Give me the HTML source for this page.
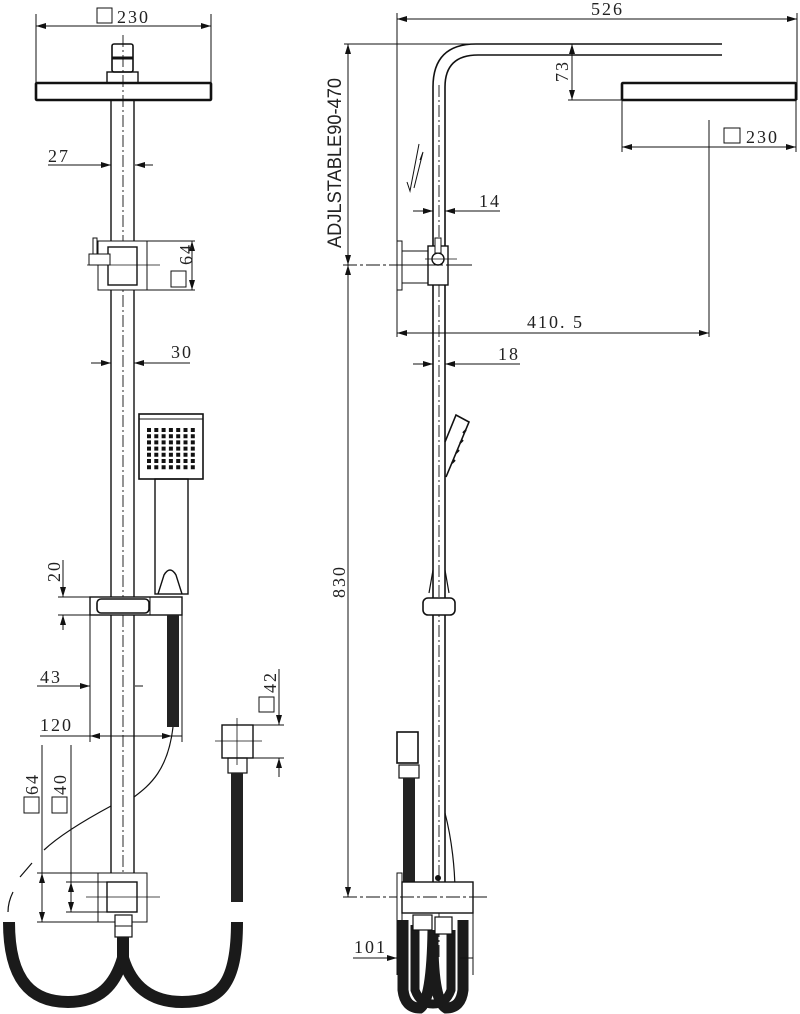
<!DOCTYPE html>
<html><head><meta charset="utf-8"><style>
html,body{margin:0;padding:0;background:#fff;}
svg{display:block;}
.t{font-family:"Liberation Serif",serif;font-size:18px;fill:#222;letter-spacing:2px;}
.s{font-family:"Liberation Sans",sans-serif;font-size:19px;fill:#222;}
</style></head><body>
<svg width="800" height="1014" viewBox="0 0 800 1014" xmlns="http://www.w3.org/2000/svg">
<defs>
<marker id="a" viewBox="0 0 10 6" refX="10" refY="3" markerWidth="10" markerHeight="6" markerUnits="userSpaceOnUse" orient="auto-start-reverse"><path d="M0,0 L10,3 L0,6 Z" fill="#111"/></marker>
</defs>
<g stroke="#111" fill="none" stroke-width="1">
<!-- LEFT VIEW -->
<line x1="36" y1="26" x2="211" y2="26" marker-start="url(#a)" marker-end="url(#a)"/>
<line x1="36" y1="14" x2="36" y2="83"/><line x1="211" y1="14" x2="211" y2="83"/>
<rect x="112" y="44" width="21" height="28" rx="2" stroke-width="1.6"/>
<line x1="112" y1="58" x2="133" y2="58" stroke-width="3"/>
<rect x="107" y="72" width="31" height="11" stroke-width="1.4"/>
<rect x="36" y="83" width="175" height="17" stroke-width="2.6" rx="1"/>
<line x1="111" y1="100" x2="111" y2="873" stroke-width="1.4"/>
<line x1="134" y1="100" x2="134" y2="873" stroke-width="1.4"/>
<line x1="123" y1="35" x2="123" y2="940" stroke-dasharray="12,3,2,3" stroke-width="0.9"/>
<!-- 27 -->
<line x1="48" y1="165" x2="111" y2="165" marker-end="url(#a)"/>
<line x1="153" y1="165" x2="135" y2="165" marker-end="url(#a)"/>
<!-- bracket -->
<rect x="98" y="241" width="49" height="49" fill="#fff"/>
<rect x="108" y="247" width="29" height="38" fill="#fff" stroke-width="1.4"/>
<rect x="93" y="238" width="4" height="27"/>
<rect x="89" y="254" width="21" height="11" fill="#fff"/>
<line x1="87" y1="265" x2="160" y2="265" stroke-width="0.8"/>
<line x1="147" y1="241" x2="195" y2="241"/><line x1="147" y1="290" x2="195" y2="290"/>
<line x1="192" y1="241" x2="192" y2="290" marker-start="url(#a)" marker-end="url(#a)"/>
<rect x="171" y="271" width="15" height="16"/>
<!-- 30 -->
<line x1="91" y1="363" x2="111" y2="363" marker-end="url(#a)"/>
<line x1="190" y1="363" x2="134" y2="363" marker-end="url(#a)"/>
<!-- hand shower -->
<rect x="139" y="414" width="64" height="65" stroke-width="1.6"/>
<line x1="139" y1="419" x2="203" y2="419"/>
<rect x="155" y="479" width="33" height="115" stroke-width="1.4"/>
<path d="M158,594 L164,575 Q170,565 176,575 L182,594" stroke-width="1.4"/>
<rect x="90" y="597" width="92" height="18" fill="#fff" stroke-width="1.4"/>
<rect x="97" y="599" width="52" height="14" rx="4" stroke-width="1.6"/>
<line x1="150" y1="597" x2="150" y2="615"/>
<rect x="167" y="615" width="12" height="112" fill="#222" stroke="none"/>
<!-- 20 -->
<line x1="58" y1="597" x2="90" y2="597"/><line x1="58" y1="615" x2="90" y2="615"/>
<line x1="63" y1="560" x2="63" y2="597" marker-end="url(#a)"/>
<line x1="63" y1="630" x2="63" y2="615" marker-end="url(#a)"/>
<!-- 43/120 -->
<line x1="90" y1="615" x2="90" y2="742"/><line x1="182" y1="615" x2="182" y2="742"/>
<line x1="37" y1="686" x2="90" y2="686" marker-end="url(#a)"/>
<line x1="143" y1="686" x2="135" y2="686"/>
<line x1="40" y1="736" x2="182" y2="736"/>
<line x1="100" y1="736" x2="90" y2="736" marker-end="url(#a)"/>
<line x1="162" y1="736" x2="172" y2="736" marker-end="url(#a)"/>
<!-- thin hose -->
<path d="M173,727 C168,770 150,785 134,797 M111,806 C85,820 60,835 44,850" stroke-width="1.2"/>
<path d="M32,863 L20,877 M13,892 Q8,902 8,912" stroke-width="1.2"/>
<!-- bottom bracket -->
<rect x="98" y="873" width="49" height="49" fill="#fff"/>
<rect x="107" y="882" width="30" height="30" fill="#fff" stroke-width="1.4"/>
<line x1="86" y1="897" x2="160" y2="897" stroke-width="0.8"/>
<rect x="115" y="915" width="17" height="22" fill="#fff" stroke-width="1.2"/>
<line x1="115" y1="926" x2="132" y2="926"/>
<line x1="37" y1="873" x2="98" y2="873"/><line x1="37" y1="922" x2="98" y2="922"/>
<line x1="42" y1="745" x2="42" y2="922"/>
<line x1="42" y1="890" x2="42" y2="873" marker-end="url(#a)"/>
<line x1="42" y1="905" x2="42" y2="922" marker-end="url(#a)"/>
<line x1="66" y1="882" x2="107" y2="882"/><line x1="66" y1="912" x2="107" y2="912"/>
<line x1="71" y1="745" x2="71" y2="912"/>
<line x1="71" y1="895" x2="71" y2="882" marker-end="url(#a)"/>
<line x1="71" y1="899" x2="71" y2="912" marker-end="url(#a)"/>
<rect x="24" y="797" width="15" height="16"/>
<rect x="52" y="797" width="15" height="16"/>
<!-- big hoses -->
<path d="M9,922 C9,985 35,1002 68,1002 C100,1002 115,985 123,958 L123,937" stroke="#1a1a1a" stroke-width="12"/>
<path d="M123,958 C131,985 150,1002 182,1002 C220,1002 237,985 237,922" stroke="#1a1a1a" stroke-width="12"/>
<!-- wall connector -->
<rect x="222" y="725" width="31" height="33" stroke-width="1.4"/>
<line x1="215" y1="741" x2="262" y2="741" stroke-width="0.8"/>
<line x1="237" y1="718" x2="237" y2="765" stroke-width="0.8"/>
<rect x="228" y="758" width="19" height="15" stroke-width="1.2"/>
<rect x="231" y="773" width="12" height="129" fill="#222" stroke="none"/>
<line x1="253" y1="725" x2="284" y2="725"/><line x1="253" y1="758" x2="284" y2="758"/>
<line x1="279" y1="669" x2="279" y2="725" marker-end="url(#a)"/>
<line x1="279" y1="777" x2="279" y2="758" marker-end="url(#a)"/>
<rect x="259" y="697" width="15" height="15"/>

<!-- RIGHT VIEW -->
<line x1="397" y1="19" x2="797" y2="19" marker-start="url(#a)" marker-end="url(#a)"/>
<line x1="397" y1="13" x2="397" y2="337"/><line x1="797" y1="13" x2="797" y2="100"/>
<path d="M433,882 L433,87 Q433,44 476,44 L722,44" stroke-width="1.6"/>
<path d="M445,882 L445,87 Q445,55 478,55 L722,55" stroke-width="1.6"/>
<line x1="439" y1="85" x2="439" y2="960" stroke-dasharray="12,3,2,3" stroke-width="0.9"/>
<line x1="344" y1="44" x2="470" y2="44"/>
<line x1="348" y1="44" x2="348" y2="265" marker-start="url(#a)" marker-end="url(#a)"/>
<line x1="348" y1="265" x2="348" y2="897" marker-start="url(#a)" marker-end="url(#a)"/>
<line x1="343" y1="265" x2="475" y2="265" stroke-dasharray="14,3,3,3"/>
<!-- 73 -->
<line x1="572" y1="44" x2="572" y2="100" marker-start="url(#a)" marker-end="url(#a)"/>
<line x1="568" y1="100" x2="622" y2="100"/>
<rect x="622" y="83" width="174" height="17" stroke-width="2.6" rx="1"/>
<line x1="622" y1="100" x2="622" y2="152"/><line x1="796" y1="100" x2="796" y2="152"/>
<line x1="622" y1="147" x2="796" y2="147" marker-start="url(#a)" marker-end="url(#a)"/>
<rect x="724" y="128" width="16" height="15"/>
<line x1="709" y1="120" x2="709" y2="337"/>
<line x1="397" y1="333" x2="709" y2="333" marker-start="url(#a)" marker-end="url(#a)"/>
<!-- 14 / 18 -->
<line x1="413" y1="211" x2="433" y2="211" marker-end="url(#a)"/>
<line x1="500" y1="211" x2="445" y2="211" marker-end="url(#a)"/>
<line x1="413" y1="364" x2="433" y2="364" marker-end="url(#a)"/>
<line x1="520" y1="364" x2="445" y2="364" marker-end="url(#a)"/>
<!-- slide arrows -->
<path d="M419,144 L410,191 L407,182 M423,152 L414,188 M423,152 L420,160"/>
<!-- wall bracket -->
<rect x="397" y="241" width="5" height="49"/>
<rect x="402" y="251" width="26" height="32"/>
<rect x="428" y="246" width="20" height="39" fill="#fff" stroke-width="1.4"/>
<circle cx="438" cy="259" r="6" stroke-width="1.4"/>
<rect x="435" y="238" width="6" height="15" fill="#fff"/>
<line x1="425" y1="259" x2="457" y2="259" stroke-width="0.8"/>
<line x1="400" y1="265" x2="468" y2="265" stroke-dasharray="14,3,3,3"/>
<!-- side hand shower -->
<path d="M445,442 L456,415 L469,422 L446,477" stroke-width="1.6"/>
<path d="M466,430 l-3,3 M463,440 l-3,3 M459,450 l-3,3 M455,460 l-3,3" stroke-width="2"/>
<path d="M429,593 L433,570 M449,593 L445,570" stroke-width="1.2"/>
<rect x="423" y="598" width="32" height="17" rx="5" fill="#fff" stroke-width="1.6"/>
<!-- 830 baseline -->
<line x1="343" y1="897" x2="487" y2="897" stroke-dasharray="14,3,3,3"/>
<!-- wall connector top -->
<rect x="397" y="732" width="21" height="31" stroke-width="1.6"/>
<rect x="399" y="765" width="20" height="13" stroke-width="1.2"/>
<rect x="403" y="778" width="12" height="104" fill="#222" stroke="none"/>
<path d="M445,813 C452,840 455,870 455,893" stroke-width="1.2"/>
<circle cx="438" cy="878" r="2.5" fill="#111"/>
<!-- bottom bracket side -->
<rect x="397" y="873" width="5" height="49" fill="#fff"/>
<rect x="402" y="882" width="71" height="31" fill="#fff" stroke-width="1.4"/>
<line x1="400" y1="897" x2="487" y2="897" stroke-dasharray="14,3,3,3"/>
<path d="M403,920 L403,990 Q405,1008 420,1008 Q432,1000 433,930 M463,920 L463,990 Q461,1008 446,1008 Q432,1000 433,930" stroke="#1a1a1a" stroke-width="11"/>
<path d="M415,925 L415,990 Q420,1004 433,1004 Q446,1004 451,990 L451,930" stroke="#1a1a1a" stroke-width="9"/>
<rect x="413" y="915" width="19" height="15" fill="#fff" stroke-width="1.2"/>
<rect x="435" y="917" width="17" height="17" fill="#fff" stroke-width="1.2"/>
<line x1="397" y1="905" x2="397" y2="975"/><line x1="473" y1="905" x2="473" y2="975"/>
<line x1="353" y1="958" x2="397" y2="958" marker-end="url(#a)"/>
<line x1="473" y1="958" x2="460" y2="958"/>
</g>
<g>
<rect x="97" y="8" width="15" height="15" fill="none" stroke="#111"/>
<text class="t" x="117" y="23">230</text>
<text class="t" x="48" y="162">27</text>
<text class="t" transform="translate(192,265) rotate(-90)">64</text>
<text class="t" x="171" y="358">30</text>
<text class="t" transform="translate(60,582) rotate(-90)">20</text>
<text class="t" x="40" y="683">43</text>
<text class="t" x="40" y="731">120</text>
<text class="t" transform="translate(38,795) rotate(-90)">64</text>
<text class="t" transform="translate(66,795) rotate(-90)">40</text>
<text class="t" transform="translate(276,693) rotate(-90)">42</text>
<text class="t" x="591" y="15">526</text>
<text class="s" transform="translate(341,248) rotate(-90)" textLength="170" lengthAdjust="spacingAndGlyphs">ADJLSTABLE90-470</text>
<text class="t" transform="translate(568,82) rotate(-90)">73</text>
<text class="t" x="746" y="143">230</text>
<text class="t" x="479" y="207">14</text>
<text class="t" x="527" y="328">410. 5</text>
<text class="t" x="498" y="360">18</text>
<text class="t" transform="translate(345,598) rotate(-90)">830</text>
<text class="t" x="354" y="953">101</text>
</g>
<g fill="#111">
<path d="M147,428h4v4h-4zM154.3,428h4v4h-4zM161.6,428h4v4h-4zM168.9,428h4v4h-4zM176.2,428h4v4h-4zM183.5,428h4v4h-4zM190.8,428h4v4h-4z"/>
<path transform="translate(0,6.2)" d="M147,428h4v4h-4zM154.3,428h4v4h-4zM161.6,428h4v4h-4zM168.9,428h4v4h-4zM176.2,428h4v4h-4zM183.5,428h4v4h-4zM190.8,428h4v4h-4z"/>
<path transform="translate(0,12.4)" d="M147,428h4v4h-4zM154.3,428h4v4h-4zM161.6,428h4v4h-4zM168.9,428h4v4h-4zM176.2,428h4v4h-4zM183.5,428h4v4h-4zM190.8,428h4v4h-4z"/>
<path transform="translate(0,18.6)" d="M147,428h4v4h-4zM154.3,428h4v4h-4zM161.6,428h4v4h-4zM168.9,428h4v4h-4zM176.2,428h4v4h-4zM183.5,428h4v4h-4zM190.8,428h4v4h-4z"/>
<path transform="translate(0,24.8)" d="M147,428h4v4h-4zM154.3,428h4v4h-4zM161.6,428h4v4h-4zM168.9,428h4v4h-4zM176.2,428h4v4h-4zM183.5,428h4v4h-4zM190.8,428h4v4h-4z"/>
<path transform="translate(0,31)" d="M147,428h4v4h-4zM154.3,428h4v4h-4zM161.6,428h4v4h-4zM168.9,428h4v4h-4zM176.2,428h4v4h-4zM183.5,428h4v4h-4zM190.8,428h4v4h-4z"/>
<path transform="translate(0,37.2)" d="M147,428h4v4h-4zM154.3,428h4v4h-4zM161.6,428h4v4h-4zM168.9,428h4v4h-4zM176.2,428h4v4h-4zM183.5,428h4v4h-4zM190.8,428h4v4h-4z"/>
</g>
</svg>
</body></html>
